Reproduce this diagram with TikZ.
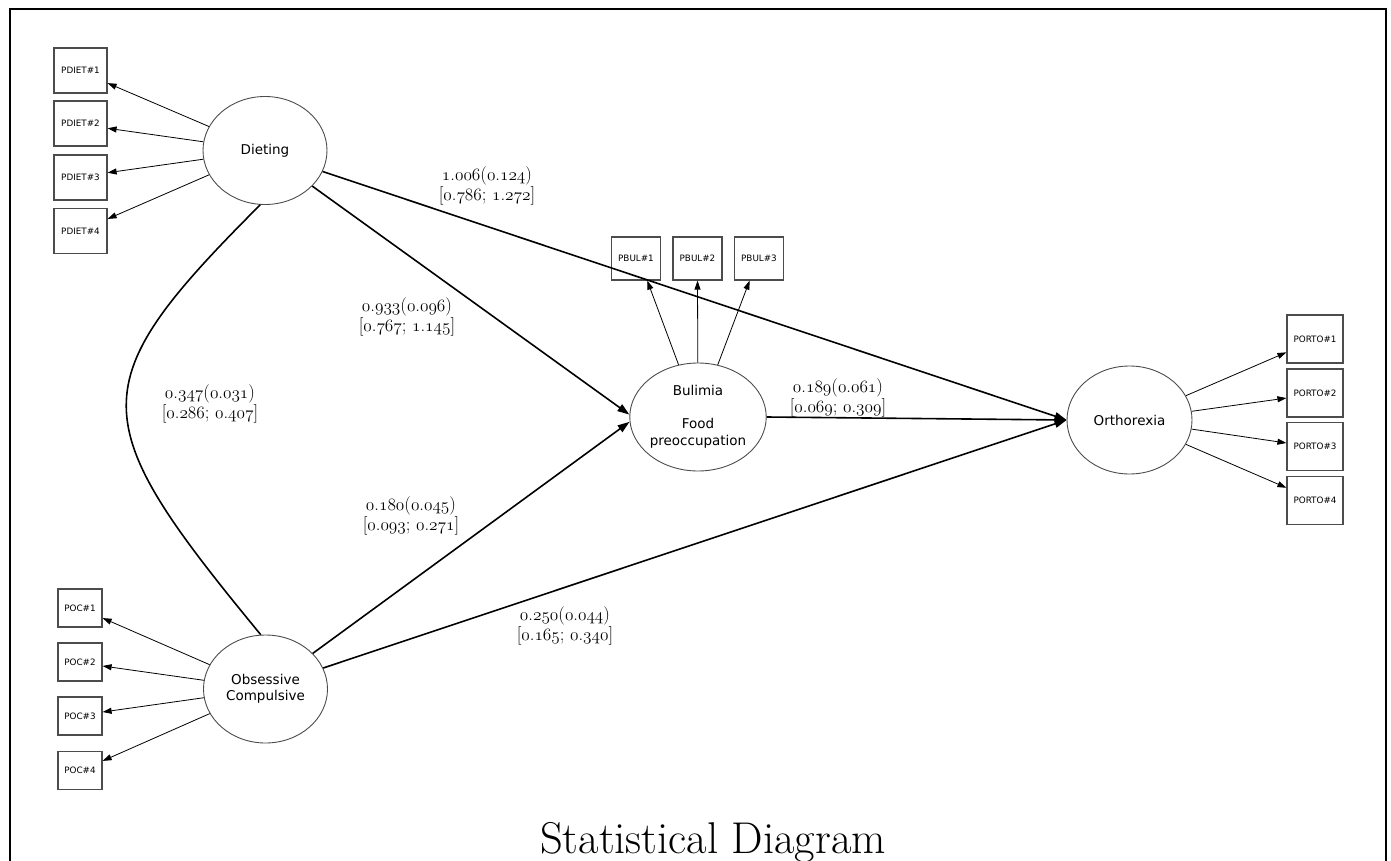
\documentclass[tikz,border=0pt]{standalone}
\usepackage{fontspec}
\usetikzlibrary{arrows.meta,shapes.geometric}
\newfontfamily\nodefont{DejaVu Sans}
\newcommand{\osn}[1]{{\usefont{OML}{cmm}{m}{it}#1}}
\newcommand{\num}[2]{\osn{#1}.\osn{#2}}
\begin{document}
\begin{tikzpicture}[x=1pt,y=-1pt,
  latent/.style={ellipse,draw=black!70,line width=0.9pt,minimum width=124pt,minimum height=108pt,inner sep=0pt,align=center,font=\nodefont\fontsize{13.5}{16.5}\selectfont,text=black},
  indic/.style={rectangle,draw=black!70,line width=1.2pt,inner sep=0pt,font=\nodefont\fontsize{8.8}{10}\selectfont,text=black},
  meas/.style={line width=0.8pt,-{Triangle[length=9pt,width=6pt]}},
  path/.style={line width=1.6pt,-{Triangle[length=12pt,width=8pt]}},
  corr/.style={line width=1.6pt},
  lab/.style={align=center,font=\fontsize{18.5}{17.5}\selectfont,inner sep=0pt}]
\useasboundingbox (0,0) rectangle (1391,861);
\draw[line width=2.4pt] (10,866) -- (10,9) -- (1386,9) -- (1386,866);
% latent variables
\node[latent] (diet) at (265,150.5) {Dieting};
\node[latent] (obs) at (265.5,689) {Obsessive\\Compulsive};
\node[latent,minimum width=134pt] (bul) at (698,417) {Bulimia\\[16.5pt]Food\\preoccupation};
\node[latent,minimum width=125pt] (ortho) at (1129.5,420) {Orthorexia};
% indicators
\foreach \i/\y in {1/70.5,2/123.5,3/177.5,4/231}
  \node[indic,minimum width=53pt,minimum height=45pt] (pd\i) at (80.5,\y) {PDIET\#\i};
\foreach \i/\y in {1/608,2/662,3/716,4/770.5}
  \node[indic,minimum width=44pt,minimum height=38pt] (poc\i) at (80,\y) {POC\#\i};
\foreach \i/\x in {1/636,2/697.5,3/759}
  \node[indic,minimum width=49pt,minimum height=43pt] (pb\i) at (\x,258.5) {PBUL\#\i};
\foreach \i/\y in {1/339,2/393,3/446.5,4/500.5}
  \node[indic,minimum width=56pt,minimum height=48pt] (po\i) at (1315,\y) {PORTO\#\i};
% measurement arrows
\draw[meas] (diet) -- (pd1.-25);
\draw[meas] (diet) -- (pd2.-10);
\draw[meas] (diet) -- (pd3.10);
\draw[meas] (diet) -- (pd4.24);
\draw[meas] (obs) -- (poc1.-24);
\draw[meas] (obs) -- (poc2.-10);
\draw[meas] (obs) -- (poc3.10);
\draw[meas] (obs) -- (poc4.23);
\draw[meas] (bul) -- (pb1.-63);
\draw[meas] (bul) -- (pb2.south);
\draw[meas] (bul) -- (pb3.-113);
\draw[meas] (ortho) -- (po1.205);
\draw[meas] (ortho) -- (po2.190);
\draw[meas] (ortho) -- (po3.173);
\draw[meas] (ortho) -- (po4.156);
% structural paths
\draw[path] (diet.-20) -- (ortho.west);
\draw[path] (diet.-37) -- (bul.178);
\draw[path] (obs.37) -- (bul.184);
\draw[path] (obs.20) -- (ortho.west);
\draw[path] (bul.east) -- (ortho.west);
\draw[corr] (diet.-95) .. controls (80,385) and (83,419) .. (obs.95);
% labels
\node[lab] (l1) at (487,186) {\num{1}{006}(\num{0}{124})\\{[}\num{0}{786}; \num{1}{272}{]}};
\node[lab] (l2) at (407,317) {\num{0}{933}(\num{0}{096})\\{[}\num{0}{767}; \num{1}{145}{]}};
\node[lab] (l3) at (210,404) {\num{0}{347}(\num{0}{031})\\{[}\num{0}{286}; \num{0}{407}{]}};
\node[lab] (l4) at (838,398) {\num{0}{189}(\num{0}{061})\\{[}\num{0}{069}; \num{0}{309}{]}};
\node[lab] (l5) at (411,516) {\num{0}{180}(\num{0}{045})\\{[}\num{0}{093}; \num{0}{271}{]}};
\node[lab] (l6) at (565,626) {\num{0}{250}(\num{0}{044})\\{[}\num{0}{165}; \num{0}{340}{]}};
% title
\node[anchor=base,inner sep=0pt,font=\fontsize{44.5}{44.5}\selectfont] (title) at (713,853) {Statistical Diagram};
\end{tikzpicture}
\end{document}
